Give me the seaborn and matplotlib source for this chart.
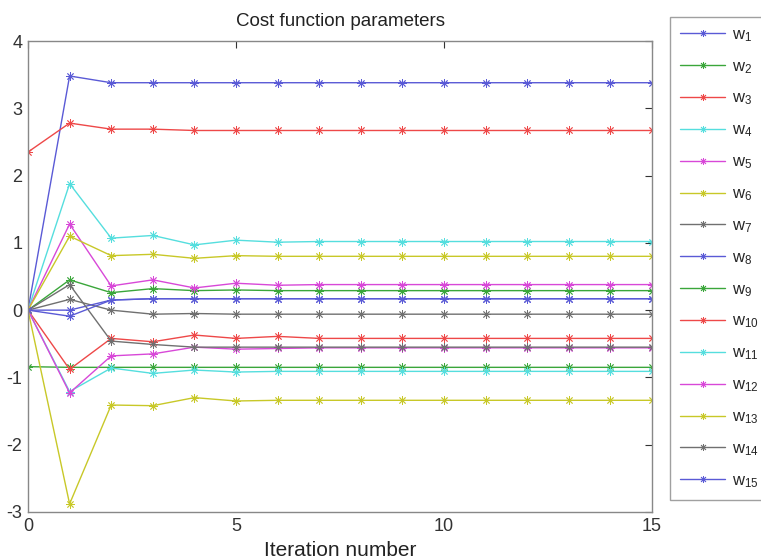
import numpy as np
import pandas as pd
import matplotlib
matplotlib.use("Agg")
import matplotlib.pyplot as plt
from matplotlib.lines import Line2D
import seaborn as sns

iterations = list(range(16))

W1 = [0, 3.48, 3.38, 3.38, 3.38, 3.38, 3.38, 3.38, 3.38, 3.38, 3.38, 3.38, 3.38, 3.38, 3.38, 3.38]
W2 = [0, 0.45, 0.26, 0.32, 0.29, 0.30, 0.29, 0.29, 0.29, 0.29, 0.29, 0.29, 0.29, 0.29, 0.29, 0.29]
W3 = [2.35, 2.78, 2.69, 2.69, 2.67, 2.67, 2.67, 2.67, 2.67, 2.67, 2.67, 2.67, 2.67, 2.67, 2.67, 2.67]
W4 = [0, 1.88, 1.07, 1.11, 0.97, 1.04, 1.01, 1.02, 1.02, 1.02, 1.02, 1.02, 1.02, 1.02, 1.02, 1.02]
W5 = [0, 1.28, 0.36, 0.45, 0.33, 0.40, 0.37, 0.38, 0.38, 0.38, 0.38, 0.38, 0.38, 0.38, 0.38, 0.38]
W6 = [0, 1.10, 0.81, 0.83, 0.77, 0.81, 0.80, 0.80, 0.80, 0.80, 0.80, 0.80, 0.80, 0.80, 0.80, 0.80]
W7 = [0, 0.16, 0.0, -0.06, -0.05, -0.06, -0.06, -0.06, -0.06, -0.06, -0.06, -0.06, -0.06, -0.06, -0.06, -0.06]
W8 = [0, 0.0, 0.15, 0.17, 0.17, 0.17, 0.17, 0.17, 0.17, 0.17, 0.17, 0.17, 0.17, 0.17, 0.17, 0.17]
W9 = [-0.84, -0.85, -0.85, -0.85, -0.85, -0.85, -0.85, -0.85, -0.85, -0.85, -0.85, -0.85, -0.85, -0.85, -0.85, -0.85]
W10 = [0, -0.88, -0.42, -0.47, -0.37, -0.42, -0.39, -0.42, -0.42, -0.42, -0.42, -0.42, -0.42, -0.42, -0.42, -0.42]
W11 = [0, -1.21, -0.86, -0.94, -0.89, -0.92, -0.91, -0.91, -0.91, -0.91, -0.91, -0.91, -0.91, -0.91, -0.91, -0.91]
W12 = [0, -1.23, -0.68, -0.65, -0.55, -0.58, -0.57, -0.56, -0.56, -0.56, -0.56, -0.56, -0.56, -0.56, -0.56, -0.56]
W13 = [0, -2.88, -1.41, -1.42, -1.30, -1.35, -1.34, -1.34, -1.34, -1.34, -1.34, -1.34, -1.34, -1.34, -1.34, -1.34]
W14 = [0, 0.38, -0.46, -0.51, -0.55, -0.55, -0.55, -0.55, -0.55, -0.55, -0.55, -0.55, -0.55, -0.55, -0.55, -0.55]
W15 = [0, -0.09, 0.15, 0.17, 0.17, 0.17, 0.17, 0.17, 0.17, 0.17, 0.17, 0.17, 0.17, 0.17, 0.17, 0.17]

series = [W1, W2, W3, W4, W5, W6, W7, W8, W9, W10, W11, W12, W13, W14, W15]
names = [f"W{i}" for i in range(1, 16)]
legend_labels = [rf"w$_{{{i}}}$" for i in range(1, 16)]

base_colors = ["#5a5ad6", "#3aa63a", "#ee4848", "#55dede", "#d848d8", "#c8c828", "#707070"]
palette = [base_colors[i % 7] for i in range(15)]

rows = []
for n, vals in zip(names, series):
    for it, v in zip(iterations, vals):
        rows.append({"iteration": it, "value": v, "param": n})
df = pd.DataFrame(rows)

sns.set_style("white")
plt.rcParams["font.family"] = ["Liberation Sans", "DejaVu Sans"]
plt.rcParams["mathtext.fontset"] = "custom"
plt.rcParams["mathtext.rm"] = "Liberation Sans"
plt.rcParams["mathtext.it"] = "Liberation Sans"
plt.rcParams["axes.unicode_minus"] = False

fig = plt.figure(figsize=(7.61, 5.59), dpi=100)
ax = fig.add_axes([28 / 761, 1 - 512 / 559, (652 - 28) / 761, (512 - 41) / 559])

star = (8, 2, 0)
sns.lineplot(data=df, x="iteration", y="value", hue="param", hue_order=names,
             palette=palette, marker=star, markersize=6, markeredgewidth=0.6,
             linewidth=1.0, ax=ax, legend=False)
for ln in ax.lines:
    ln.set_markeredgecolor(ln.get_color())
    ln.set_markerfacecolor(ln.get_color())

ax.set_xlim(0, 15)
ax.set_ylim(-3, 4)
ax.set_xticks([0, 5, 10, 15])
ax.set_yticks(range(-3, 5))
ax.tick_params(direction="in", length=5, labelsize=13, colors="#333333",
               top=True, right=True, pad=4)
for s in ax.spines.values():
    s.set_color("#888888")
    s.set_linewidth(1.0)
ax.set_xlabel("Iteration number", fontsize=15, color="#222222", labelpad=5)
ax.set_ylabel("")
ax.set_title("Cost function parameters", fontsize=13.5, color="#222222", pad=11)

handles = [Line2D([0], [0], color=palette[i], marker=star, markersize=5,
                  markeredgewidth=0.6, linewidth=1.0) for i in range(15)]
leg = fig.legend(handles, legend_labels, loc="upper left",
                 bbox_to_anchor=(670 / 761, 1 - 17 / 559), borderaxespad=0,
                 frameon=True, fancybox=False, edgecolor="#888888", fontsize=12,
                 handlelength=2.7, labelspacing=0.91, borderpad=0.6,
                 handletextpad=0.45)
leg.get_frame().set_linewidth(1.0)

fig.savefig("out.png", dpi=100)
